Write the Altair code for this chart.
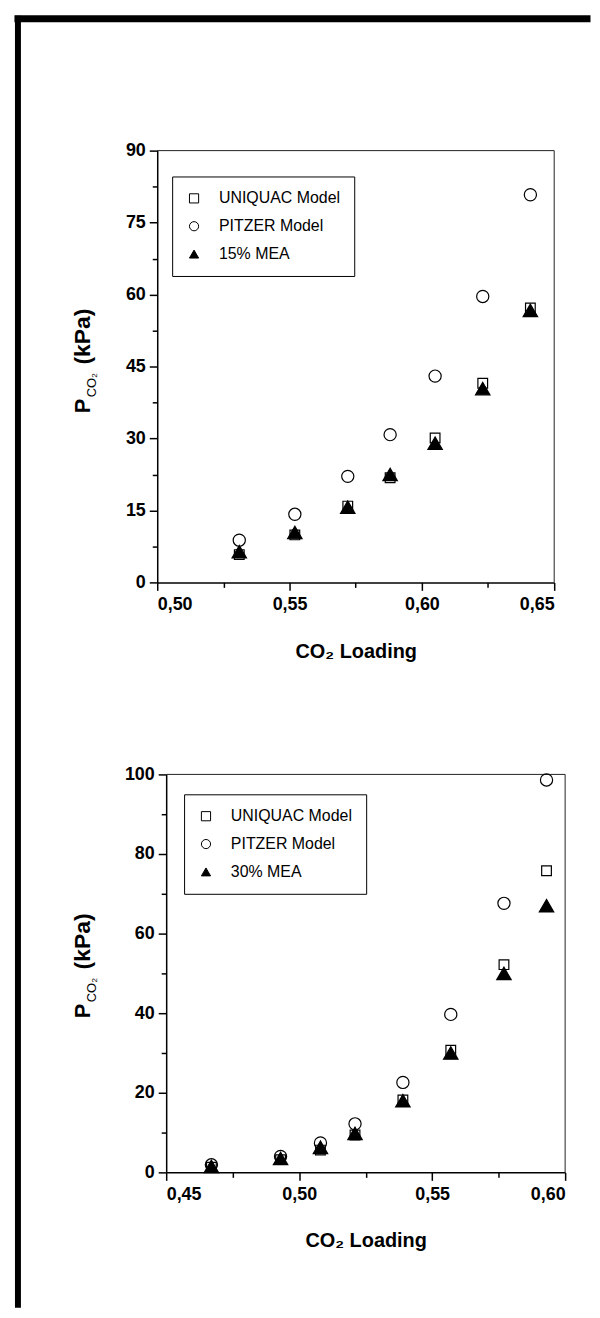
import altair as alt
import pandas as pd

FONT = "Liberation Sans, Arial, sans-serif"

# ---- top panel: 15% MEA ----
loading_15 = [0.531, 0.552, 0.572, 0.588, 0.605, 0.623, 0.641]
uniquac_15 = [5.8, 9.9, 15.9, 21.8, 30.1, 41.5, 57.2]
pitzer_15 = [8.8, 14.2, 22.1, 30.8, 43.0, 59.6, 80.8]
mea_15 = [6.4, 10.4, 15.7, 22.5, 29.0, 40.4, 56.7]
names_15 = ["UNIQUAC Model", "PITZER Model", "15% MEA"]
xticks_15 = [0.50, 0.525, 0.55, 0.575, 0.60, 0.625, 0.65]
yticks_15 = [0, 7.5, 15, 22.5, 30, 37.5, 45, 52.5, 60, 67.5, 75, 82.5, 90]

# ---- bottom panel: 30% MEA ----
loading_30 = [0.467, 0.493, 0.508, 0.521, 0.539, 0.557, 0.577, 0.593]
uniquac_30 = [1.3, 3.2, 5.6, 9.4, 18.2, 30.7, 52.2, 75.8]
pitzer_30 = [1.9, 4.0, 7.4, 12.2, 22.6, 39.7, 67.6, 98.6]
mea_30 = [1.5, 3.5, 6.3, 9.8, 18.0, 30.0, 50.0, 67.0]
names_30 = ["UNIQUAC Model", "PITZER Model", "30% MEA"]
xticks_30 = [0.45, 0.475, 0.50, 0.525, 0.55, 0.575, 0.60]
yticks_30 = [0, 10, 20, 30, 40, 50, 60, 70, 80, 90, 100]

shapes = ["square", "circle", "triangle-up"]
fills = ["transparent", "transparent", "black"]
strokes = ["black", "black", "black"]
sizes = [95, 150, 210]


def make_df(x, uq, pz, mea, names):
    rows = []
    for name, vals in zip(names, [uq, pz, mea]):
        for xi, yi in zip(x, vals):
            rows.append({"loading": xi, "p": yi, "series": name})
    return pd.DataFrame(rows)


X_MAJOR = "abs(datum.value*20 - round(datum.value*20)) < 0.001"


def panel(df, names, xdom, ydom, xvals, yvals, ystep, W, H, xoff,
          leg_x, leg_y, p_start, frame=False):
    xscale = alt.Scale(domain=xdom, range=[xoff, W], nice=False, zero=False)
    yscale = alt.Scale(domain=ydom, nice=False, zero=False)
    y_major = f"datum.value % {ystep} === 0"
    x_axis = alt.Axis(
        values=xvals,
        labelExpr=f"{X_MAJOR} ? replace(format(datum.value, '.2f'), '.', ',') : ''",
        tickSize=alt.condition(X_MAJOR, alt.value(8), alt.value(5)),
        title="CO₂ Loading",
        titlePadding=28,
        labelPadding=5,
    )
    y_axis = alt.Axis(
        values=yvals,
        labelExpr=f"{y_major} ? format(datum.value, 'd') : ''",
        tickSize=alt.condition(y_major, alt.value(8), alt.value(5)),
        title=None,
        offset=-xoff,
        labelPadding=4,
    )
    leg = dict(
        orient="none", legendX=leg_x, legendY=leg_y, title=None,
        strokeColor="black", fillColor="white", padding=14,
        labelFont=FONT, labelFontSize=16, labelColor="black",
        rowPadding=12, symbolSize=85, symbolStrokeWidth=1, labelOffset=17,
    )
    shape_enc = alt.Shape("series:N", scale=alt.Scale(domain=names, range=shapes),
                          legend=alt.Legend(**leg))
    fill_enc = alt.Fill("series:N", scale=alt.Scale(domain=names, range=fills),
                        legend=alt.Legend(**leg))
    stroke_enc = alt.Stroke("series:N", scale=alt.Scale(domain=names, range=strokes),
                            legend=alt.Legend(**leg))

    series_layers = []
    for name, size in zip(names, sizes):
        series_layers.append(
            alt.Chart(df).transform_filter(alt.datum.series == name).mark_point(
                filled=True, strokeWidth=1.2, opacity=1, size=size
            ).encode(
                x=alt.X("loading:Q", scale=xscale, axis=x_axis),
                y=alt.Y("p:Q", scale=yscale, axis=y_axis),
                shape=shape_enc,
                fill=fill_enc,
                stroke=stroke_enc,
            )
        )

    one = alt.Data(values=[{}])
    box_top = alt.Chart(one).mark_rule(color="#222", strokeWidth=1).encode(
        x=alt.value(xoff), x2=alt.value(W), y=alt.value(0))
    box_right = alt.Chart(one).mark_rule(color="#222", strokeWidth=1).encode(
        x=alt.value(W), y=alt.value(0), y2=alt.value(H))

    tx = -68
    t_p = alt.Chart(one).mark_text(
        text="P", angle=270, align="left", baseline="alphabetic",
        font=FONT, fontWeight="bold", fontSize=22, color="black"
    ).encode(x=alt.value(tx), y=alt.value(p_start))
    t_co = alt.Chart(one).mark_text(
        text="CO₂", angle=270, align="left", baseline="alphabetic",
        font=FONT, fontSize=13, color="black"
    ).encode(x=alt.value(tx + 6), y=alt.value(p_start - 16))
    t_kpa = alt.Chart(one).mark_text(
        text="(kPa)", angle=270, align="left", baseline="alphabetic",
        font=FONT, fontWeight="bold", fontSize=23, color="black"
    ).encode(x=alt.value(tx), y=alt.value(p_start - 49))

    layers = [box_top, box_right] + series_layers + [t_p, t_co, t_kpa]
    if frame:
        f_left = alt.Chart(one).mark_rule(color="black", strokeWidth=6, strokeCap="square").encode(
            x=alt.value(-140), y=alt.value(-132.5), y2=alt.value(1160))
        f_top = alt.Chart(one).mark_rule(color="black", strokeWidth=7, strokeCap="square").encode(
            x=alt.value(-140), x2=alt.value(432), y=alt.value(-132.5))
        layers = [f_left, f_top] + layers
    return alt.layer(*layers).properties(width=W, height=H)


df15 = make_df(loading_15, uniquac_15, pitzer_15, mea_15, names_15)
df30 = make_df(loading_30, uniquac_30, pitzer_30, mea_30, names_30)

top = panel(df15, names_15, [0.50, 0.65], [0, 90], xticks_15, yticks_15, 15,
            399, 434, 0, 15, 26, 264, frame=True)
bottom = panel(df30, names_30, [0.45, 0.60], [0, 100], xticks_30, yticks_30, 20,
               410, 400, 9, 27, 20, 245)

chart = alt.concat(top, bottom, columns=1, spacing=193, bounds="flush").resolve_scale(
    x="independent", y="independent", shape="independent",
    fill="independent", stroke="independent"
).resolve_legend(
    shape="independent", fill="independent", stroke="independent"
).properties(
    padding={"left": 5, "top": 2, "right": 0, "bottom": 0},
    background="white",
).configure_view(stroke=None).configure_axis(
    domainColor="black", domainWidth=1.5, tickColor="black", tickWidth=1.5,
    labelColor="black", labelFont=FONT, labelFontWeight="bold", labelFontSize=18,
    titleColor="black", titleFont=FONT, titleFontWeight="bold", titleFontSize=20,
    grid=False,
)

chart.save("out.html", embed_options={"renderer": "svg", "actions": False})
